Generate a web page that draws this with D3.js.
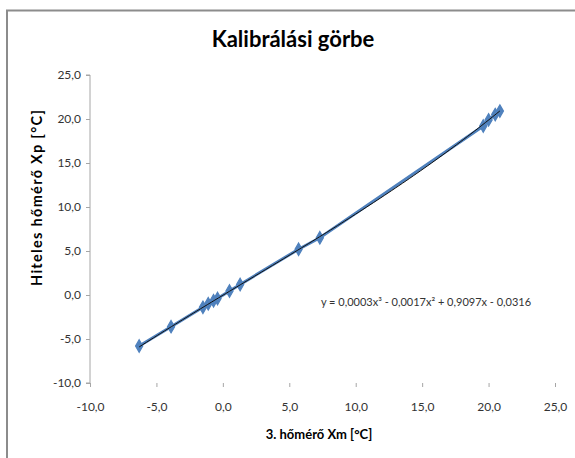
<!DOCTYPE html>
<html><head><meta charset="utf-8">
<script src="https://cdn.jsdelivr.net/npm/d3@7"></script>
<style>html,body{margin:0;padding:0;background:#fff;} svg{display:block;}</style>
</head><body>
<script>
const title = "Kalibrálási görbe";
const xTitle = "3. hőmérő Xm [°C]";
const yTitle = "Hiteles hőmérő Xp [°C]";
const xm = [-6.3, -3.9, -1.5, -1.1, -0.7, -0.4, 0.5, 1.3, 5.7, 7.3, 19.6, 20.0, 20.5, 20.85];
const xp = [-5.8, -3.6, -1.4, -1.0, -0.65, -0.4, 0.45, 1.2, 5.2, 6.5, 19.2, 19.9, 20.5, 20.9];
const xTicks = [-10, -5, 0, 5, 10, 15, 20, 25];
const yTicks = [-10, -5, 0, 5, 10, 15, 20, 25];
const trendCoef = [0.0003, -0.0017, 0.9097, -0.0316];
const equation = "y = 0,0003x³ - 0,0017x² + 0,9097x - 0,0316";

const W = 575, H = 458;
const svg = d3.select("body").append("svg").attr("width", W).attr("height", H);
const font = "Lato, 'Open Sans', sans-serif";
const fmt = v => v.toFixed(1).replace(".", ",");

// frame (top and left edges visible)
svg.append("path").attr("d", `M7,${H} V10.5 H${W}`).attr("fill", "none").attr("stroke", "#8c8c8c").attr("stroke-width", 2);

const x = d3.scaleLinear().domain([-10, 25]).range([90, 555]);
const y = d3.scaleLinear().domain([-10, 25]).range([383, 75]);

// y axis
const yAxis = svg.append("g").attr("transform", "translate(90,0)")
  .call(d3.axisLeft(y).tickValues(yTicks).tickFormat(fmt).tickSize(4).tickPadding(5));
yAxis.select(".domain").attr("stroke", "#a6a6a6").attr("d", `M-4,${y(25)}H0V${y(-10)}H-4`);
yAxis.selectAll(".tick line").attr("stroke", "#a6a6a6");
yAxis.selectAll("text").attr("font-family", font).attr("font-size", 12).attr("fill", "#333");

// x axis (ticks only)
const xAxis = svg.append("g").attr("transform", "translate(0,383)")
  .call(d3.axisBottom(x).tickValues(xTicks).tickFormat(fmt).tickSize(4).tickPadding(15));
xAxis.select(".domain").remove();
xAxis.selectAll(".tick line").attr("stroke", "#a6a6a6");
xAxis.selectAll("text").attr("font-family", font).attr("font-size", 12).attr("fill", "#333");

// data line
const pts = xm.map((v, i) => [v, xp[i]]);
svg.append("path").datum(pts)
  .attr("d", d3.line().x(d => x(d[0])).y(d => y(d[1])))
  .attr("fill", "none").attr("stroke", "#4f81bd").attr("stroke-width", 3);

// markers
svg.append("g").selectAll("path").data(pts).join("path")
  .attr("d", d3.symbol().type(d3.symbolDiamond).size(45))
  .attr("transform", d => `translate(${x(d[0])},${y(d[1])})`)
  .attr("fill", "#4f81bd").attr("stroke", "#4f81bd").attr("stroke-width", 1.2);

// trendline
const poly = v => trendCoef[0]*v*v*v + trendCoef[1]*v*v + trendCoef[2]*v + trendCoef[3];
const xmin = d3.min(xm), xmax = d3.max(xm);
const tr = d3.range(0, 101).map(i => { const v = xmin + (xmax - xmin) * i / 100; return [v, poly(v)]; });
svg.append("path").datum(tr)
  .attr("d", d3.line().x(d => x(d[0])).y(d => y(d[1])))
  .attr("fill", "none").attr("stroke", "#111").attr("stroke-width", 1);

// texts
svg.append("text").attr("x", 293).attr("y", 47).attr("text-anchor", "middle")
  .attr("font-family", font).attr("font-weight", "bold").attr("font-size", 22).attr("fill", "#000").text(title);
svg.append("text").attr("x", 319).attr("y", 439).attr("text-anchor", "middle")
  .attr("font-family", font).attr("font-weight", "bold").attr("font-size", 13).attr("fill", "#000").text(xTitle);
svg.append("text").attr("transform", "translate(42,198) rotate(-90)").attr("text-anchor", "middle")
  .attr("font-family", font).attr("font-weight", "bold").attr("font-size", 14.5)
  .attr("textLength", 176).attr("lengthAdjust", "spacing").attr("fill", "#000").text(yTitle);
svg.append("text").attr("x", 426).attr("y", 306).attr("text-anchor", "middle")
  .attr("font-family", font).attr("font-size", 11).attr("fill", "#333").text(equation);
</script>
</body></html>
